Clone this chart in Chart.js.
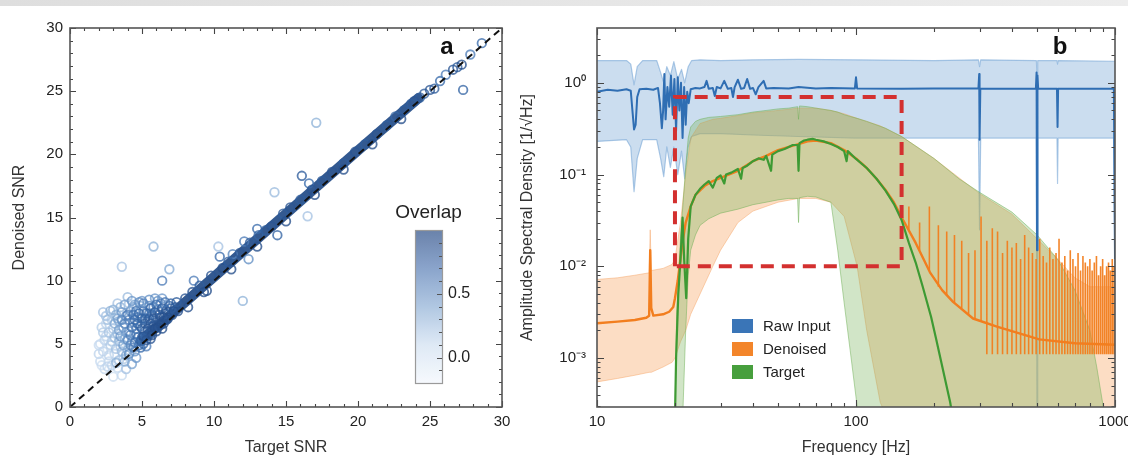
<!DOCTYPE html>
<html><head><meta charset="utf-8">
<script src="https://cdn.jsdelivr.net/npm/chart.js@4.4.0/dist/chart.umd.min.js"></script>
<style>
html,body{margin:0;padding:0;background:#fff;width:1128px;height:458px;overflow:hidden}
#strip{position:absolute;left:0;top:0;width:1128px;height:6px;background:linear-gradient(to right,#dedede,#ededed)}
#ca{position:absolute;left:0;top:0}
#cb{position:absolute;left:510px;top:0}
</style></head><body>
<div id="strip"></div>
<canvas id="ca" width="520" height="458"></canvas>
<canvas id="cb" width="618" height="458"></canvas>
<script>
// ---------------- Panel a data ----------------
const snrTicks = [0, 5, 10, 15, 20, 25, 30];
const overlapTicks = [0.0, 0.5];
const overlapTickLabels = ['0.0', '0.5'];
const targetSNR = [
  24.3,24.6,25.0,25.3,25.7,26.1,26.6,26.9,27.2,27.3,27.8,28.6,23.9,17.1,16.1,16.6,14.2,16.5,14.4,13.0,12.1,11.3,10.4,10.3,8.6,12.0,12.4,6.4,6.9,5.8,3.6,
  8.0,8.5,9.0,9.3,9.8,10.6,11.0,11.8,12.5,13.1,13.6,14.0,14.8,15.3,16.0,16.8,17.5,18.2,19.0,19.8,20.5,21.3,22.0,22.6,23.2,23.7,8.2,9.5,11.2,13.0,15.0,17.0,19.0,21.0,23.0,
  2.0,2.1,2.2,2.3,2.4,2.5,2.6,2.6,2.7,2.8,
  2.9,3.0,3.0,3.1,3.2,3.3,3.3,3.4,3.5,3.5,
  3.6,3.7,3.7,3.8,3.9,3.9,4.0,4.0,4.1,4.2,
  4.3,4.3,4.4,4.5,4.5,4.6,4.7,4.8,4.9,5.0,
  5.0,5.1,5.2,5.3,5.4,5.5,5.6,5.7,5.8,5.9,
  6.0,6.1,6.2,6.3,6.5,6.6,6.8,6.9,7.1,7.3,
  7.5,2.2,2.5,2.9,3.3,3.6,4.1,4.4,4.6,4.9,
  5.2,5.5,5.8,6.1,6.4,3.4,3.9,4.6,5.1,5.4,
  5.7,6.0,6.3,6.7,7.0,
  2.1,2.3,2.4,2.5,2.7,2.7,2.8,2.9,3.0,3.1,
  3.1,3.2,3.3,3.4,3.4,3.5,3.6,3.6,3.7,3.8,
  3.8,3.9,4.0,4.0,4.1,4.2,4.2,4.3,4.3,4.4,
  4.5,4.5,4.6,4.7,4.7,4.8,4.8,4.9,5.0,5.0,
  5.1,5.1,5.2,5.3,5.3,5.4,5.5,5.5,5.6,5.6,
  5.7,5.8,5.9,5.9,6.0,6.1,6.2,6.3,6.4,6.5,
  6.6,6.7,6.8,7.0,7.2,7.4,3.2,3.8,4.1,4.4,
  2.6,2.3,2.0,4.9,5.6,6.4
];
const denoisedSNR = [
  24.5,24.8,25.1,25.2,25.8,26.3,26.7,26.9,27.1,25.1,27.9,28.8,24.2,22.5,18.3,17.7,17.0,15.1,13.6,14.1,13.1,12.1,11.9,12.7,10.0,8.4,11.7,10.0,10.9,12.7,11.1,
  8.6,9.1,9.6,9.1,10.4,11.0,11.5,12.2,13.0,13.6,14.0,14.3,15.3,15.8,16.4,17.2,17.9,18.6,19.3,20.2,20.8,21.6,22.3,23.0,23.5,24.0,7.9,9.2,10.9,12.7,14.7,16.8,18.8,20.8,22.8,
  4.2,5.0,6.3,7.5,3.0,5.6,4.6,6.9,3.6,7.6,
  5.2,6.2,2.4,4.2,7.3,3.1,5.8,6.8,4.8,7.9,
  2.5,3.8,6.3,5.4,7.2,3.0,8.7,4.5,6.0,7.6,
  5.2,3.4,6.7,4.4,8.1,5.8,7.1,4.9,6.4,8.4,
  5.5,7.6,6.0,4.8,6.9,8.0,5.8,7.3,6.4,8.6,
  6.0,7.7,6.8,8.2,6.6,7.4,7.0,8.0,7.3,7.9,
  7.6,3.3,6.6,6.9,8.2,4.4,8.2,7.9,3.9,8.0,
  7.0,7.4,7.9,8.4,8.6,5.2,5.9,6.2,5.0,5.6,
  6.1,6.5,7.1,7.6,7.8,
  3.6,4.4,5.3,7.2,4.1,5.9,4.9,3.3,7.7,5.5,
  6.6,4.6,7.0,3.7,6.1,5.6,7.5,6.9,4.9,8.1,
  6.6,4.1,5.3,7.3,6.9,4.9,5.7,8.4,6.3,7.3,
  5.1,6.9,7.6,5.5,6.6,8.3,7.4,5.2,6.2,7.0,
  5.6,8.2,6.6,7.4,5.3,6.2,7.0,8.5,6.6,7.8,
  5.7,7.0,6.2,7.5,8.1,6.3,7.3,6.5,7.8,7.1,
  8.3,6.9,7.5,8.2,7.6,8.3,3.5,3.6,4.2,4.7,
  3.2,5.9,4.9,4.7,5.4,6.2
];
const overlapVal = [
  0.8,0.8,0.85,0.8,0.7,0.6,0.85,0.8,0.9,0.75,0.6,0.7,0.85,0.3,0.8,0.7,0.25,0.2,0.75,0.7,0.6,0.55,0.7,0.2,0.6,0.3,0.5,0.6,0.35,0.3,0.2,
  0.85,0.85,0.8,0.9,0.85,0.9,0.8,0.85,0.8,0.75,0.8,0.85,0.8,0.85,0.8,0.85,0.8,0.85,0.8,0.85,0.8,0.85,0.8,0.75,0.8,0.8,0.9,0.9,0.9,0.9,0.9,0.9,0.9,0.9,0.9,
  0.1,0.05,0.15,0.2,0.05,0.1,0.0,0.25,0.05,0.3,
  0.15,0.2,0.0,0.1,0.35,0.05,0.3,0.4,0.2,0.3,
  0.05,0.15,0.45,0.35,0.5,0.2,0.25,0.3,0.5,0.55,
  0.45,0.4,0.6,0.5,0.4,0.6,0.65,0.7,0.65,0.45,
  0.75,0.6,0.8,0.6,0.75,0.55,0.8,0.7,0.85,0.45,
  0.85,0.7,0.85,0.6,0.9,0.8,0.9,0.7,0.9,0.85,
  0.9,0.0,0.1,0.15,0.2,0.25,0.2,0.35,0.45,0.35,
  0.7,0.65,0.6,0.5,0.45,0.3,0.4,0.6,0.75,0.8,
  0.85,0.85,0.85,0.8,0.8,
  0.05,0.1,0.1,0.2,0.1,0.2,0.15,0.1,0.3,0.25,
  0.35,0.2,0.4,0.2,0.4,0.45,0.45,0.5,0.4,0.4,
  0.55,0.35,0.5,0.6,0.6,0.55,0.6,0.45,0.65,0.65,
  0.65,0.7,0.65,0.7,0.75,0.5,0.7,0.75,0.8,0.75,
  0.85,0.6,0.8,0.75,0.85,0.85,0.8,0.5,0.85,0.7,
  0.9,0.85,0.9,0.8,0.7,0.9,0.85,0.9,0.8,0.9,
  0.65,0.9,0.85,0.75,0.9,0.8,0.3,0.35,0.5,0.6,
  0.1,0.15,0.05,0.7,0.85,0.9
];
const bandTarget = [4.9, 7.5, 10, 15, 20, 24.2];
const bandDenoised = [5.25, 7.8, 10.3, 15.3, 20.3, 24.45];
const diagX = [0, 30];
const diagY = [0, 30];

// ---------------- Panel b data ----------------
const freqMajor = [10, 100, 1000];
const freqTickLabels = ['10', '100', '1000'];
const asdMajor = [0.001, 0.01, 0.1, 1];
const asdTickLabels = ['10\u207B\u00B3', '10\u207B\u00B2', '10\u207B\u00B9', '10\u2070'];

const rawF = [10,11,12,13,13.5,13.7,13.9,14.1,14.3,14.6,
 15.5,16.5,17.2,17.5,17.8,18.0,18.2,18.4,18.7,19.0,
 19.3,19.6,19.9,20.2,20.5,20.8,21.1,21.4,21.7,22.0,
 22.3,22.6,23.0,24,25,26,26.5,27,28,28.5,
 29,30,31,32,33,33.5,34,35,36,37,
 38,39,40,41,42,44,45,48,55,60,
 70,80,99,100,101,150,200,297,299,300,
 302,400,495,498,500,502,505,597,600,603,
 800,990,1000];
const rawMed = [0.80,0.84,0.82,0.85,0.82,0.5,0.31,0.35,0.7,0.85,
 0.86,0.84,0.88,0.6,0.32,0.5,1.25,0.4,0.9,0.55,
 1.2,0.45,1.1,0.3,1.15,0.5,1.0,0.25,0.9,0.35,
 0.8,0.6,0.85,0.88,0.87,0.9,1.05,0.86,0.88,0.72,
 0.9,0.87,1.05,0.86,0.88,0.7,0.9,1.08,0.86,0.88,
 1.1,0.86,0.88,0.75,0.9,1.05,0.87,0.88,0.87,0.9,
 0.87,0.88,0.87,1.15,0.87,0.86,0.87,0.87,1.25,0.24,
 0.87,0.86,0.87,1.3,0.015,1.2,0.87,0.86,0.33,0.86,
 0.86,0.86,0.012];

const rawBandF = [10,13,13.5,13.9,14.3,15,17,17.6,18.1,18.6,
 19.2,19.8,20.5,21.2,21.8,22.5,23.2,25,30,40,
 60,100,200,297,300,303,497,500,503,597,
 600,603,990,1000];
const rawUp = [1.75,1.75,1.6,0.95,1.5,1.75,1.75,1.3,1.0,1.5,
 1.2,1.7,1.1,1.4,1.0,1.5,1.75,1.78,1.75,1.78,
 1.8,1.78,1.75,1.78,1.5,1.78,1.75,1.2,1.75,1.75,
 1.6,1.75,1.72,1.72];
const rawLow = [0.23,0.24,0.2,0.065,0.15,0.24,0.24,0.15,0.095,0.2,
 0.12,0.2,0.1,0.18,0.09,0.2,0.26,0.28,0.28,0.27,
 0.26,0.25,0.25,0.25,0.025,0.25,0.25,0.0001,0.25,0.25,
 0.08,0.25,0.25,0.005];

const denF = [10,12,14,15.5,15.9,16.05,16.2,16.5,18,19,
 19.7,20,20.5,21,21.5,22,23,24,26,28,
 30,35,40,45,50,55,60,65,70,80,
 90,100,110,120,130,140,152,170,193,215,
 237,283,350,510,700,1000];
const denMed = [0.0024,0.0025,0.0026,0.00275,0.0029,0.015,0.0035,0.0029,0.003,0.0032,
 0.0036,0.0045,0.007,0.012,0.02,0.03,0.045,0.06,0.075,0.085,
 0.092,0.11,0.14,0.16,0.185,0.2,0.215,0.23,0.235,0.22,
 0.185,0.15,0.118,0.09,0.068,0.05,0.032,0.018,0.0086,0.0055,
 0.0041,0.0027,0.0022,0.0016,0.00145,0.0014];

const denBandF = [10,12,14,15.9,16.05,16.2,18,19.5,20,21,
 22,23,25,28,30,35,40,50,60,70,
 80,90,101,110,124,150,200,300,400,500,
 600,700,800,900,1000];
const denUp = [0.0072,0.0075,0.008,0.0085,0.025,0.009,0.0095,0.0105,0.012,0.03,
 0.1,0.25,0.36,0.4,0.41,0.44,0.47,0.5,0.53,0.53,
 0.5,0.46,0.41,0.38,0.34,0.26,0.15,0.062,0.037,0.02,
 0.012,0.0075,0.006,0.006,0.006];
const denLow = [0.00055,0.0006,0.00065,0.0007,0.0007,0.0007,0.0008,0.0009,0.001,0.0015,
 0.002,0.003,0.005,0.01,0.015,0.03,0.04,0.05,0.055,0.055,
 0.05,0.035,0.01,0.002,0.00033,0.0001,0.0001,0.0001,0.0001,0.0001,
 0.0001,0.0001,0.0001,0.0001,0.0001];

const denSpikeF = [160,176,192,208,224,240,256,272,288,304,
 320,336,352,368,384,400,416,432,448,464,
 480,496,512,528,544,560,576,592,608,624,
 640,656,672,688,704,720,736,752,768,784,
 800,816,832,848,864,880,896,912,928,944,
 960,976,992];
const denSpikePeak = [0.045,0.03,0.045,0.028,0.024,0.022,0.019,0.014,0.015,0.035,
 0.019,0.026,0.024,0.014,0.019,0.016,0.018,0.012,0.022,0.016,
 0.014,0.012,0.02,0.013,0.011,0.016,0.012,0.014,0.02,0.011,
 0.013,0.009,0.015,0.012,0.01,0.014,0.009,0.013,0.011,0.01,
 0.012,0.009,0.011,0.013,0.008,0.01,0.012,0.008,0.01,0.011,
 0.009,0.012,0.01];
const denSpikeBase = [0.025,0.015,0.009,0.006,0.0048,0.004,0.0035,0.003,0.0027,0.0025,
 0.0011,0.0011,0.0011,0.0011,0.0011,0.0011,0.0011,0.0011,0.0011,0.0011,
 0.0011,0.0011,0.0011,0.0011,0.0011,0.0011,0.0011,0.0011,0.0011,0.0011,
 0.0011,0.0011,0.0011,0.0011,0.0011,0.0011,0.0011,0.0011,0.0011,0.0011,
 0.0011,0.0011,0.0011,0.0011,0.0011,0.0011,0.0011,0.0011,0.0011,0.0011,
 0.0011,0.0011,0.0011];

const tgtF = [19.9,20.2,20.6,21.0,21.4,21.7,22.1,22.5,23,24,
 25,26,27,28,29,30,31,31.5,33,35,
 36,36.5,38,40,42,44,45,47,47.5,50,
 53,55,57,59.5,60,60.5,63,65,68,70,
 75,80,85,90,92,93,100,110,120,130,
 140,150,160,170,181,195,204,231,245];
const tgtMed = [0.0001,0.001,0.005,0.012,0.034,0.012,0.0045,0.02,0.045,0.06,
 0.07,0.078,0.085,0.072,0.092,0.098,0.08,0.1,0.105,0.115,
 0.09,0.118,0.125,0.14,0.15,0.145,0.16,0.11,0.165,0.18,
 0.19,0.2,0.21,0.21,0.11,0.22,0.235,0.24,0.245,0.24,
 0.23,0.215,0.2,0.18,0.14,0.18,0.148,0.118,0.09,0.067,
 0.048,0.032,0.018,0.011,0.006,0.0028,0.0016,0.00033,0.00012];

const tgtBandF = [19.9,20.3,21,21.5,22,22.5,23,24,25,27,
 30,35,40,45,50,55,59.5,60,60.5,65,
 70,80,85,90,95,101,110,130,150,200,
 250,300,400,500,600,700,800,850,900,950];
const tgtUp = [0.0001,0.003,0.02,0.05,0.12,0.25,0.33,0.38,0.4,0.42,
 0.43,0.45,0.48,0.5,0.52,0.53,0.55,0.4,0.56,0.55,
 0.53,0.5,0.48,0.45,0.43,0.41,0.38,0.32,0.26,0.15,
 0.09,0.064,0.039,0.022,0.012,0.0055,0.002,0.0008,0.0003,0.0001];
const tgtLow = [0.0001,0.0001,0.0001,0.0003,0.002,0.008,0.015,0.022,0.028,0.033,
 0.038,0.042,0.047,0.05,0.053,0.055,0.055,0.03,0.056,0.058,
 0.057,0.05,0.015,0.004,0.0012,0.0003,0.0001,0.0001,0.0001,0.0001,
 0.0001,0.0001,0.0001,0.0001,0.0001,0.0001,0.0001,0.0001,0.0001,0.0001];

const rectF = [20, 20, 150, 150, 20];
const rectV = [0.01, 0.7, 0.7, 0.01, 0.01];

const seriesNames = ['Raw Input', 'Denoised', 'Target'];
const seriesColors = ['#2f6eb3', '#f27e1f', '#3d9a33'];

// ---------------- helpers ----------------
Chart.defaults.font.family = "'Liberation Sans', Helvetica, Arial, sans-serif";
Chart.defaults.color = '#222';

function cmap(o, a) {
  const st = [[-0.2,[238,245,252]],[0.1,[190,212,236]],[0.4,[120,162,208]],[0.7,[58,108,172]],[1.0,[28,64,124]]];
  let i = 0; while (i < st.length - 2 && o > st[i+1][0]) i++;
  const [o0,c0] = st[i], [o1,c1] = st[i+1];
  const t = Math.max(0, Math.min(1, (o - o0) / (o1 - o0)));
  const c = c0.map((v,k) => Math.round(v + (c1[k]-v)*t));
  return `rgba(${c[0]},${c[1]},${c[2]},${a})`;
}
function cbarColor(o) {
  const st = [[-0.2,[246,249,253]],[0.1,[222,233,245]],[0.4,[176,199,226]],[0.7,[138,164,203]],[1.0,[106,130,170]]];
  let i = 0; while (i < st.length - 2 && o > st[i+1][0]) i++;
  const [o0,c0] = st[i], [o1,c1] = st[i+1];
  const t = Math.max(0, Math.min(1, (o - o0) / (o1 - o0)));
  const c = c0.map((v,k) => Math.round(v + (c1[k]-v)*t));
  return `rgb(${c[0]},${c[1]},${c[2]})`;
}
const pts = (xs, ys) => xs.map((x,i) => ({x, y: ys[i]}));

function makeFrame(xTicks, yTicks) {
  return { id: 'frame', afterDatasetsDraw(chart) {
    const {ctx, chartArea: a, scales: {x, y}} = chart;
    ctx.save(); ctx.strokeStyle = '#444'; ctx.lineWidth = 1.1; ctx.beginPath();
    for (const [v,l] of xTicks) { const p = Math.round(x.getPixelForValue(v)) + 0.5;
      ctx.moveTo(p, a.bottom); ctx.lineTo(p, a.bottom - l); ctx.moveTo(p, a.top); ctx.lineTo(p, a.top + l); }
    for (const [v,l] of yTicks) { const p = Math.round(y.getPixelForValue(v)) + 0.5;
      ctx.moveTo(a.left, p); ctx.lineTo(a.left + l, p); ctx.moveTo(a.right, p); ctx.lineTo(a.right - l, p); }
    ctx.stroke();
    ctx.lineWidth = 1.6; ctx.strokeStyle = '#555';
    ctx.strokeRect(a.left, a.top, a.right - a.left, a.bottom - a.top);
    ctx.restore();
  }};
}
function panelLabel(text, px, py) {
  return { id: 'plabel', afterDraw(chart) {
    const ctx = chart.ctx; ctx.save();
    ctx.font = "bold 24px 'Liberation Sans', Arial, sans-serif"; ctx.fillStyle = '#111';
    ctx.textAlign = 'center'; ctx.textBaseline = 'middle'; ctx.fillText(text, px, py); ctx.restore();
  }};
}

// ---------------- Panel a ----------------
const aXT = [], aYT = [];
for (let v = 0; v <= 30; v++) { const major = snrTicks.includes(v); aXT.push([v, major ? 6 : 3]); aYT.push([v, major ? 6 : 3]); }

const cbMin = -0.2, cbMax = 1.0;
const colorbar = { id: 'cbar', afterDatasetsDraw(chart) {
  const {ctx, scales: {x, y}} = chart;
  const l = Math.round(x.getPixelForValue(23.95)), r = Math.round(x.getPixelForValue(25.85));
  const t = Math.round(y.getPixelForValue(14.0)), b = Math.round(y.getPixelForValue(1.9));
  const vp = o => b - (o - cbMin) / (cbMax - cbMin) * (b - t);
  ctx.save();
  const g = ctx.createLinearGradient(0, b, 0, t);
  for (let k = 0; k <= 24; k++) { const o = cbMin + (cbMax - cbMin) * k / 24; g.addColorStop(k / 24, cbarColor(o)); }
  ctx.fillStyle = g; ctx.fillRect(l, t, r - l, b - t);
  ctx.strokeStyle = '#9a9a9a'; ctx.lineWidth = 1.2; ctx.strokeRect(l + 0.5, t + 0.5, r - l, b - t);
  ctx.strokeStyle = '#555'; ctx.lineWidth = 1; ctx.beginPath();
  for (let k = -1; k <= 9; k++) { const o = k / 10; const p = Math.round(vp(o)) + 0.5;
    const len = overlapTicks.some(v => Math.abs(v - o) < 1e-6) ? 5 : 3; ctx.moveTo(r, p); ctx.lineTo(r - len, p); }
  ctx.stroke();
  ctx.fillStyle = '#222'; ctx.font = "16px 'Liberation Sans', Arial, sans-serif"; ctx.textAlign = 'left'; ctx.textBaseline = 'middle';
  overlapTicks.forEach((v, i) => ctx.fillText(overlapTickLabels[i], r + 6, vp(v)));
  ctx.font = "19px 'Liberation Sans', Arial, sans-serif"; ctx.textAlign = 'center';
  ctx.fillText('Overlap', (l + r) / 2, t - 17);
  ctx.restore();
}};

new Chart(document.getElementById('ca'), {
  type: 'scatter',
  data: { datasets: [
    { type: 'line', data: pts(diagX, diagY), borderColor: '#111', borderWidth: 2, borderDash: [7, 5], pointRadius: 0, order: 0 },
    { data: pts(targetSNR, denoisedSNR), pointRadius: 4.3, pointBorderWidth: 1.8, pointBackgroundColor: 'rgba(0,0,0,0)',
      pointBorderColor: overlapVal.map(o => cmap(o, 0.78)), order: 1 },
    { type: 'line', data: pts(bandTarget, bandDenoised), borderColor: 'rgba(36,76,136,0.93)', borderWidth: 10, pointRadius: 0, borderCapStyle: 'round', order: 2 }
  ]},
  options: {
    responsive: false, animation: false, devicePixelRatio: 1,
    layout: { padding: { left: 0, top: 28, right: 18, bottom: 0 } },
    plugins: { legend: { display: false }, tooltip: { enabled: false } },
    scales: {
      x: { type: 'linear', min: 0, max: 30,
        afterBuildTicks: s => { s.ticks = snrTicks.map(v => ({value: v})); },
        afterFit: s => { s.height = 51; s.paddingLeft = 0; s.paddingRight = 0; },
        ticks: { padding: 6, font: { size: 15 }, color: '#222', maxRotation: 0, autoSkip: false },
        grid: { display: false, drawTicks: false }, border: { display: false },
        title: { display: true, text: 'Target SNR', font: { size: 16 }, color: '#333', padding: { top: 0, bottom: 1 } } },
      y: { type: 'linear', min: 0, max: 30,
        afterBuildTicks: s => { s.ticks = snrTicks.map(v => ({value: v})); },
        afterFit: s => { s.width = 70; s.paddingTop = 0; s.paddingBottom = 0; },
        ticks: { padding: 7, font: { size: 15 }, color: '#222', autoSkip: false },
        grid: { display: false, drawTicks: false }, border: { display: false },
        title: { display: true, text: 'Denoised SNR', font: { size: 16 }, color: '#333', padding: { top: 10, bottom: 0 } } }
    }
  },
  plugins: [makeFrame(aXT, aYT), colorbar, panelLabel('a', 447, 47)]
});

// ---------------- Panel b ----------------
const bXT = [], bYT = [];
freqMajor.forEach(v => bXT.push([v, 7]));
[10, 100].forEach(d => { for (let m = 2; m <= 9; m++) bXT.push([d * m, 4]); });
asdMajor.forEach(v => bYT.push([v, 7]));
[0.0001, 0.001, 0.01, 0.1, 1].forEach(d => { for (let m = 2; m <= 9; m++) { const v = d * m; if (v > 2.93e-4 && v < 3.96) bYT.push([v, 3.5]); } });

const spikeData = [];
denSpikeF.forEach((f, i) => { spikeData.push({x: f, y: denSpikeBase[i]}, {x: f, y: denSpikePeak[i]}, {x: f, y: null}); });

const legendPlugin = { id: 'slegend', afterDatasetsDraw(chart) {
  const ctx = chart.ctx; ctx.save();
  ctx.font = "15px 'Liberation Sans', Arial, sans-serif"; ctx.textBaseline = 'middle'; ctx.textAlign = 'left';
  seriesNames.forEach((n, i) => {
    const yc = 326 + i * 23;
    ctx.fillStyle = seriesColors[i]; ctx.globalAlpha = 0.95; ctx.fillRect(222, yc - 7, 21, 14);
    ctx.globalAlpha = 1; ctx.fillStyle = '#222'; ctx.fillText(n, 253, yc + 1);
  });
  ctx.restore();
}};

const lineBase = { pointRadius: 0, tension: 0, fill: false, spanGaps: false, borderJoinStyle: 'round' };
new Chart(document.getElementById('cb'), {
  type: 'line',
  data: { datasets: [
    { ...lineBase, data: pts(rawBandF, rawUp), borderColor: 'rgba(110,160,212,0.55)', borderWidth: 1.2, backgroundColor: 'rgba(110,160,212,0.36)', fill: '+1', order: 10 },
    { ...lineBase, data: pts(rawBandF, rawLow), borderColor: 'rgba(110,160,212,0.55)', borderWidth: 1.2, order: 10 },
    { ...lineBase, data: pts(denBandF, denUp), borderColor: 'rgba(245,160,95,0.45)', borderWidth: 1, backgroundColor: 'rgba(248,160,92,0.36)', fill: '+1', order: 9 },
    { ...lineBase, data: pts(denBandF, denLow), borderColor: 'rgba(245,160,95,0.45)', borderWidth: 1, order: 9 },
    { ...lineBase, data: pts(tgtBandF, tgtUp), borderColor: 'rgba(110,175,85,0.5)', borderWidth: 1, backgroundColor: 'rgba(120,180,92,0.34)', fill: '+1', order: 8 },
    { ...lineBase, data: pts(tgtBandF, tgtLow), borderColor: 'rgba(110,175,85,0.5)', borderWidth: 1, order: 8 },
    { ...lineBase, data: spikeData, borderColor: 'rgba(242,126,31,0.95)', borderWidth: 1.6, order: 5 },
    { ...lineBase, data: pts(rawF, rawMed), borderColor: seriesColors[0], borderWidth: 2, order: 4 },
    { ...lineBase, data: pts(denF, denMed), borderColor: seriesColors[1], borderWidth: 2.4, order: 3 },
    { ...lineBase, data: pts(tgtF, tgtMed), borderColor: seriesColors[2], borderWidth: 2.2, order: 2 },
    { ...lineBase, data: pts(rectF, rectV), borderColor: '#d3302f', borderWidth: 4, borderDash: [13, 8], borderCapStyle: 'butt', borderJoinStyle: 'miter', order: 1 }
  ]},
  options: {
    responsive: false, animation: false, devicePixelRatio: 1,
    layout: { padding: { left: 0, top: 28, right: 13, bottom: 0 } },
    plugins: { legend: { display: false }, tooltip: { enabled: false }, filler: { propagate: false } },
    scales: {
      x: { type: 'logarithmic', min: 10, max: 1000,
        afterBuildTicks: s => { s.ticks = freqMajor.map(v => ({value: v})); },
        afterFit: s => { s.height = 51; s.paddingLeft = 0; s.paddingRight = 0; },
        ticks: { padding: 6, font: { size: 15 }, color: '#222', maxRotation: 0, autoSkip: false, callback: (v, i) => freqTickLabels[i] },
        grid: { display: false, drawTicks: false }, border: { display: false },
        title: { display: true, text: 'Frequency [Hz]', font: { size: 16 }, color: '#333', padding: { top: 0, bottom: 1 } } },
      y: { type: 'logarithmic', min: 2.93e-4, max: 3.96,
        afterBuildTicks: s => { s.ticks = asdMajor.map(v => ({value: v})); },
        afterFit: s => { s.width = 87; s.paddingTop = 0; s.paddingBottom = 0; },
        ticks: { padding: 11, font: { size: 15 }, color: '#222', autoSkip: false, callback: (v, i) => asdTickLabels[i] },
        grid: { display: false, drawTicks: false }, border: { display: false },
        title: { display: true, text: 'Amplitude Spectral Density [1/\u221AHz]', font: { size: 16 }, color: '#333', padding: { top: 8, bottom: 0 } } }
    }
  },
  plugins: [makeFrame(bXT, bYT), legendPlugin, panelLabel('b', 550, 47)]
});
</script></body></html>
